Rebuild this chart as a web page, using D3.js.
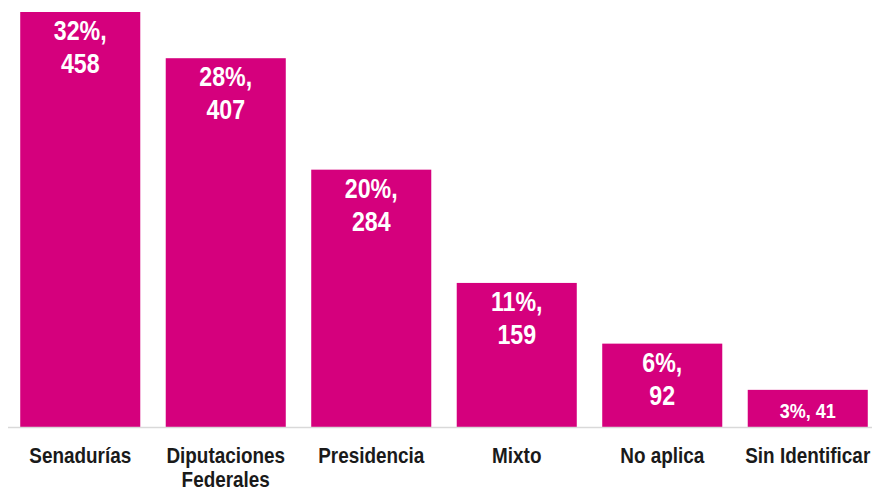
<!DOCTYPE html>
<html>
<head>
<meta charset="utf-8">
<script src="https://cdn.jsdelivr.net/npm/d3@7"></script>
<style>
  body { margin: 0; background: #fff; }
  text { font-family: "Liberation Sans", Arial, sans-serif; font-weight: bold; }
</style>
</head>
<body>
<div id="chart"></div>
<script>
var categories = ["Senadurías", "Diputaciones Federales", "Presidencia", "Mixto", "No aplica", "Sin Identificar"];
var counts = [458, 407, 284, 159, 92, 41];
var percents = ["32%", "28%", "20%", "11%", "6%", "3%"];

var data = categories.map((c, i) => ({ cat: c, n: counts[i], pct: percents[i] }));

var width = 872, height = 488;
var baseY = 427;

var svg = d3.select("#chart")
    .append("svg")
    .attr("width", width)
    .attr("height", height);

var x = d3.scaleBand()
    .domain(categories)
    .range([7.5, 880.5])
    .paddingInner(0.175)
    .paddingOuter(0.0875);

var y = d3.scaleLinear()
    .domain([0, 458])
    .range([baseY, 12]);

// bars
svg.selectAll(".bar")
    .data(data)
    .enter().append("rect")
    .attr("class", "bar")
    .attr("x", d => x(d.cat))
    .attr("y", d => y(d.n))
    .attr("width", x.bandwidth())
    .attr("height", d => baseY - y(d.n))
    .attr("fill", "#d5007d");

// baseline
svg.append("line")
    .attr("x1", 8)
    .attr("x2", width)
    .attr("y1", baseY + 0.5)
    .attr("y2", baseY + 0.5)
    .attr("stroke", "#d9d9d9")
    .attr("stroke-width", 1.5);

var sx = 0.86; // text in the source is a little condensed

// value labels
data.forEach(function(d) {
    var cx = x(d.cat) + x.bandwidth() / 2;
    var top = y(d.n);
    var g = svg.append("g")
        .attr("transform", "translate(" + cx + "," + top + ") scale(" + sx + ",1)");
    if (d.n < 60) {
        g.append("text")
            .attr("y", 28)
            .attr("text-anchor", "middle")
            .attr("fill", "#fff")
            .style("font-size", "21px")
            .text(d.pct + ", " + d.n);
    } else {
        g.append("text")
            .attr("y", 28)
            .attr("text-anchor", "middle")
            .attr("fill", "#fff")
            .style("font-size", "27px")
            .text(d.pct + ",");
        g.append("text")
            .attr("y", 61)
            .attr("text-anchor", "middle")
            .attr("fill", "#fff")
            .style("font-size", "27px")
            .text(d.n);
    }
});

// category labels
data.forEach(function(d) {
    var cx = x(d.cat) + x.bandwidth() / 2;
    var words = d.cat === "Diputaciones Federales" ? ["Diputaciones", "Federales"] : [d.cat];
    var g = svg.append("g")
        .attr("transform", "translate(" + cx + ",463) scale(" + sx + ",1)");
    words.forEach(function(w, i) {
        g.append("text")
            .attr("y", i * 24)
            .attr("text-anchor", "middle")
            .attr("fill", "#1a1a1a")
            .style("font-size", "22px")
            .text(w);
    });
});
</script>
</body>
</html>
